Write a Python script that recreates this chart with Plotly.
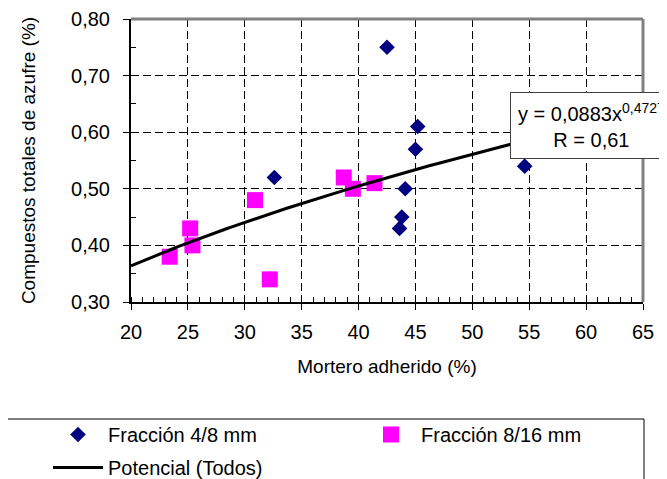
import numpy as np
import plotly.graph_objects as go

# ---- data ----
frac48_x = [42.5, 32.6, 45.2, 45.0, 54.6, 44.1, 43.8, 43.6]
frac48_y = [0.75, 0.52, 0.61, 0.57, 0.54, 0.50, 0.45, 0.43]
frac816_x = [23.4, 25.2, 25.4, 30.9, 32.2, 38.7, 39.5, 41.4]
frac816_y = [0.38, 0.43, 0.40, 0.48, 0.34, 0.52, 0.50, 0.51]
trend_coef = 0.0883
trend_exp = 0.4727
trend_r = 0.61
trend_xmin = 20
trend_xmax = 54.6

x_ticks = [20, 25, 30, 35, 40, 45, 50, 55, 60, 65]
y_ticks = [0.30, 0.40, 0.50, 0.60, 0.70, 0.80]

FONT = "Liberation Sans, Arial, sans-serif"
FS = 20
FS_T = 19

tx = np.linspace(trend_xmin, trend_xmax, 100)
ty = trend_coef * tx ** trend_exp

# page body has an 8px margin: figure drawn 8px in from the window's corner
OFF = 8
W, H = 667 - OFF, 479 - OFF
ML, MT, PW, PH = 131 - OFF, 19 - OFF, 512, 283
MR, MB = W - ML - PW, H - MT - PH

fig = go.Figure()
fig.add_trace(go.Scatter(
    x=frac48_x, y=frac48_y, mode="markers", name="Fracción 4/8 mm",
    marker=dict(symbol="diamond", size=12, color="#000080"),
    legend="legend",
))
fig.add_trace(go.Scatter(
    x=frac816_x, y=frac816_y, mode="markers", name="Fracción 8/16 mm",
    marker=dict(symbol="square", size=16, color="#FF00FF"),
    legend="legend2",
))
fig.add_trace(go.Scatter(
    x=tx, y=ty, mode="lines", name="Potencial (Todos)",
    line=dict(color="black", width=3),
    legend="legend3",
))

fig.add_annotation(
    x=53.3, y=0.671, xref="x", yref="y", xanchor="left", yanchor="top",
    text=("y = " + f"{trend_coef:.4f}".replace(".", ",") + "x<sup>" +
          f"{trend_exp:.4f}".replace(".", ",") + "</sup><br>R = " +
          f"{trend_r:.2f}".replace(".", ",")),
    showarrow=False, align="center", bgcolor="white",
    bordercolor="#404040", borderwidth=1, borderpad=7,
    font=dict(family=FONT, size=FS, color="black"),
)

# gray top / right frame
fig.add_shape(type="line", xref="paper", yref="paper", x0=0, x1=1, y0=1, y1=1,
              line=dict(color="#808080", width=3))
fig.add_shape(type="line", xref="paper", yref="paper", x0=1, x1=1, y0=0, y1=1,
              line=dict(color="#808080", width=3))
# legend frame (screen px: left 7, right 644, top 419)
fig.add_shape(type="rect", xref="paper", yref="paper",
              x0=(7 - 131) / PW, x1=(644 - 131) / PW,
              y0=-0.9, y1=(302 - 419) / PH,
              line=dict(color="black", width=1), fillcolor="rgba(0,0,0,0)")

leg_common = dict(
    orientation="h", xref="container", yref="container",
    xanchor="left", yanchor="top", itemwidth=50,
    bgcolor="rgba(0,0,0,0)", font=dict(family=FONT, size=FS, color="black"),
)

def cx(px):
    return (px - OFF) / W

def cy(py):
    return 1 - (py - OFF) / H

fig.update_layout(
    width=W, height=H, autosize=False,
    margin=dict(l=ML, r=MR, t=MT, b=MB),
    paper_bgcolor="white", plot_bgcolor="white",
    separators=",.",
    font=dict(family=FONT, size=FS, color="black"),
    showlegend=True,
    legend=dict(x=cx(48), y=cy(415), **leg_common),
    legend2=dict(x=cx(361), y=cy(415), **leg_common),
    legend3=dict(x=cx(48), y=cy(448), **leg_common),
    xaxis=dict(
        range=[20, 65], tickvals=x_ticks, ticktext=[str(v) for v in x_ticks],
        showline=True, linecolor="black", linewidth=2, automargin=False,
        ticks="outside", ticklen=6, tickcolor="black", tickwidth=1,
        minor=dict(dtick=1, ticks="inside", ticklen=5, tickcolor="black", tickwidth=1, showgrid=False),
        showgrid=True, gridcolor="black", gridwidth=1, griddash="8px,4px",
        zeroline=False, ticklabelstandoff=5,
        title=dict(text="Mortero adherido (%)", standoff=18,
                   font=dict(family=FONT, size=FS_T, color="black")),
    ),
    yaxis=dict(
        range=[0.3, 0.8], tickvals=y_ticks, tickformat=".2f",
        showline=True, linecolor="black", linewidth=2, automargin=False,
        ticks="outside", ticklen=6, tickcolor="black", tickwidth=1,
        minor=dict(dtick=0.05, ticks="inside", ticklen=5, tickcolor="black", tickwidth=1, showgrid=False),
        showgrid=True, gridcolor="black", gridwidth=1, griddash="8px,4px",
        zeroline=False, ticklabelstandoff=9,
        title=dict(text="Compuestos totales de azufre (%)", standoff=30,
                   font=dict(family=FONT, size=FS_T, color="black")),
    ),
)

fig.write_html("out.html")
